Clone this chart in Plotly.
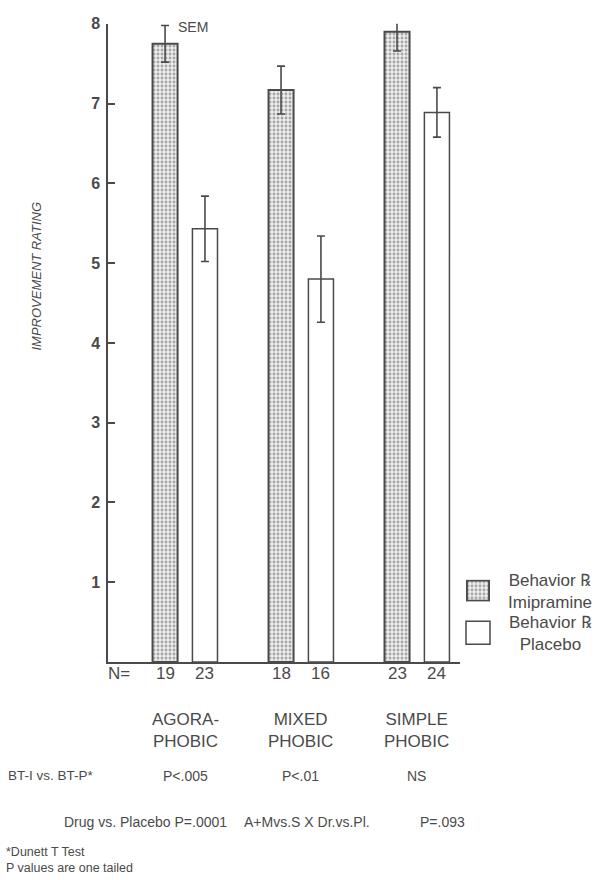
import plotly.graph_objects as go

# Improvement ratings (mean ± SEM) by phobia type and treatment
groups = ["AGORA-<br>PHOBIC", "MIXED<br>PHOBIC", "SIMPLE<br>PHOBIC"]
drug_mean = [7.75, 7.17, 7.90]
drug_sem = [0.23, 0.30, 0.24]
placebo_mean = [5.43, 4.80, 6.89]
placebo_sem = [0.41, 0.54, 0.31]
n_drug = [19, 18, 23]
n_placebo = [23, 16, 24]
bt_pvals = ["P<.005", "P<.01", "NS"]
y_ticks = [1, 2, 3, 4, 5, 6, 7, 8]

W, H = 602, 880
INK = "#4a4a4a"
FONT = "Liberation Sans, Arial, Helvetica, sans-serif"

group_pos = list(range(len(groups)))
half_gap = 0.172
bar_w = 0.216
x_drug = [g - half_gap for g in group_pos]
x_plac = [g + half_gap for g in group_pos]


def px(x):
    return x / W


def py(y):
    return 1 - y / H


stipple = dict(shape=".", fgcolor="#555555", bgcolor="#f0f0f0", size=4, solidity=0.45)

fig = go.Figure()

fig.add_trace(go.Bar(
    x=x_drug, y=drug_mean, width=bar_w,
    marker=dict(color="#f0f0f0", pattern=stipple, line=dict(color=INK, width=2)),
    error_y=dict(type="data", array=drug_sem, visible=True, color=INK, thickness=1.6, width=4),
    showlegend=False, xaxis="x", yaxis="y",
))
fig.add_trace(go.Bar(
    x=x_plac, y=placebo_mean, width=bar_w,
    marker=dict(color="white", line=dict(color=INK, width=1.5)),
    error_y=dict(type="data", array=placebo_sem, visible=True, color=INK, thickness=1.6, width=4),
    showlegend=False, xaxis="x", yaxis="y",
))

# legend swatch for the stippled series, drawn on its own small axes
fig.add_trace(go.Bar(
    x=[0.5], y=[1], width=1,
    marker=dict(color="#f0f0f0", pattern=stipple, line=dict(color=INK, width=2)),
    showlegend=False, xaxis="x2", yaxis="y2", hoverinfo="skip",
))

fig.update_layout(
    width=W, height=H,
    margin=dict(l=0, r=0, t=0, b=0),
    paper_bgcolor="white", plot_bgcolor="white",
    barmode="overlay",
    font=dict(family=FONT, color=INK),
    xaxis=dict(
        domain=[px(108), px(460)], range=[-0.664, 2.371],
        showline=True, linecolor=INK, linewidth=1.5,
        showticklabels=False, ticks="", showgrid=False, zeroline=False,
    ),
    yaxis=dict(
        domain=[py(660), py(16)], range=[0, 8],
        showline=True, linecolor=INK, linewidth=1.5,
        ticks="inside", ticklen=7, tickwidth=1.5, tickcolor=INK,
        tickvals=y_ticks, ticktext=[f"<b>{t}</b>" for t in y_ticks],
        tickfont=dict(size=16, color=INK), ticklabelstandoff=3,
        showgrid=False, zeroline=False,
    ),
    xaxis2=dict(domain=[px(466), px(490)], range=[-0.04, 1.04], visible=False),
    yaxis2=dict(domain=[py(599), py(577)], range=[-0.04, 1.04], visible=False),
)

ann = []


def label(text, x, y, size, xref="paper", xanchor="center", **kw):
    ann.append(dict(text=text, x=x, y=y, xref=xref, yref="paper",
                    xanchor=xanchor, yanchor="middle", showarrow=False,
                    font=dict(size=size), **kw))


# y-axis title
label("<i>IMPROVEMENT RATING</i>", px(37), py(271), 13, textangle=-90)

# SEM note beside the first error bar
label("SEM", px(176), py(19), 14, xanchor="left")

# sample sizes
label("N=", px(106), py(672), 17, xanchor="left")
for xd, xp_, nd, npl in zip(x_drug, x_plac, n_drug, n_placebo):
    label(str(nd), xd, py(672), 17, xref="x")
    label(str(npl), xp_, py(672), 17, xref="x")

# group names and pairwise p-values
for g, name, pv in zip(group_pos, groups, bt_pvals):
    label(name, g, py(729), 17, xref="x")
    label(pv, g, py(775), 14, xref="x")

label("BT-I vs. BT-P*", px(6), py(775), 13.5, xanchor="left")
label("Drug vs. Placebo P=.0001", px(62), py(821), 14, xanchor="left")
label("A+Mvs.S X Dr.vs.Pl.", px(242), py(821), 14, xanchor="left")
label("P=.093", px(418), py(821), 14, xanchor="left")
label("*Dunett T Test<br>P values are one tailed", px(4), py(860), 12.5, xanchor="left", align="left")

# legend labels
label("Behavior \u211e<br>Imipramine", px(550), py(589), 17)
label("Behavior \u211e<br>Placebo", px(550), py(631), 17)

fig.update_layout(annotations=ann)

# open legend swatch for the placebo series
fig.add_shape(type="rect", xref="paper", yref="paper",
              x0=px(466), x1=px(490), y0=py(642), y1=py(619),
              line=dict(color=INK, width=1.5), fillcolor="white")

fig.write_html("out.html")
